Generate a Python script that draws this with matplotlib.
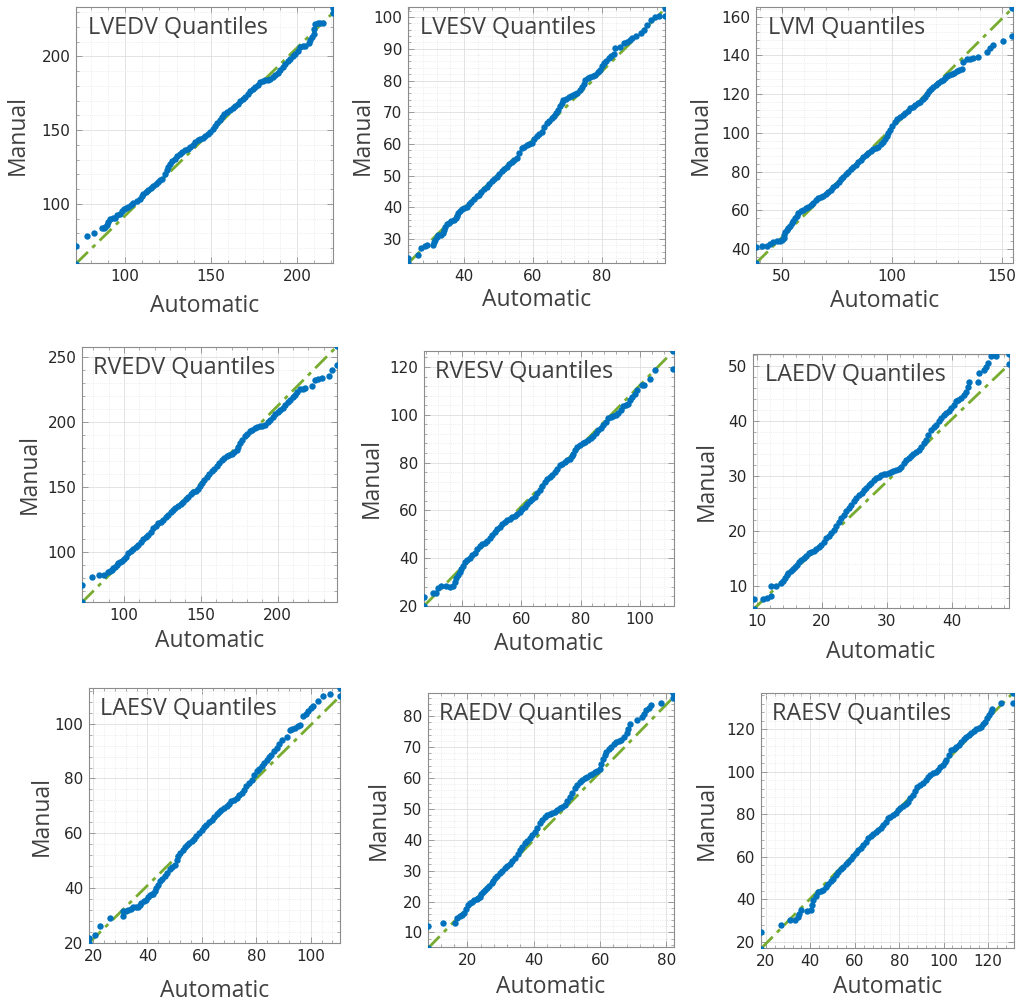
import matplotlib
matplotlib.use("Agg")
import matplotlib.pyplot as plt
from matplotlib.ticker import AutoMinorLocator, FixedLocator

# ---- quantile pairs (Automatic, Manual) for each measurement ----
lvedv = [(71.5, 59.6), (71.5, 71.3), (77.7, 78.6), (81.9, 80.1), (86.4, 83.5), (87.5, 84.0),
         (88.3, 84.4), (89.5, 86.0), (90.3, 87.8), (91.3, 90.1), (92.8, 90.4), (94.2, 90.7),
         (95.6, 92.2), (97.1, 93.5), (98.3, 95.2), (99.4, 96.8), (100.6, 97.4), (101.9, 98.0),
         (103.4, 99.5), (104.9, 100.9), (106.8, 102.3), (108.7, 103.6), (109.7, 105.2),
         (110.7, 107.0), (112.1, 108.3), (113.6, 109.7), (115.0, 110.9), (116.5, 112.2),
         (118.0, 113.6), (119.4, 114.9), (120.6, 116.0), (121.7, 117.2), (123.0, 120.0),
         (124.3, 122.8), (125.2, 125.0), (126.2, 127.3), (127.6, 129.0), (129.1, 130.7),
         (130.5, 132.2), (132.0, 133.6), (133.4, 135.0), (134.9, 136.3), (136.4, 137.5),
         (137.9, 138.6), (139.3, 140.3), (140.8, 142.0), (142.2, 143.1), (143.7, 144.2),
         (145.1, 145.0), (146.6, 145.8), (148.0, 147.3), (149.5, 148.8), (151.0, 150.7),
         (152.4, 152.6), (153.8, 154.7), (155.3, 156.7), (156.5, 158.7), (157.7, 160.7),
         (159.4, 162.0), (161.2, 163.4), (162.6, 164.8), (164.1, 166.1), (165.5, 167.8),
         (167.0, 169.5), (168.4, 171.0), (169.9, 172.5), (171.3, 174.5), (172.8, 176.5),
         (174.2, 177.8), (175.7, 179.2), (177.1, 180.9), (178.6, 182.6), (180.1, 183.1),
         (181.6, 183.7), (183.0, 184.3), (184.5, 184.9), (186.0, 186.0), (187.4, 187.1),
         (188.8, 188.8), (190.3, 190.5), (191.7, 192.7), (193.2, 195.0), (194.6, 196.7),
         (196.1, 198.4), (197.5, 200.1), (199.0, 201.8), (200.4, 204.0), (201.9, 206.3),
         (203.4, 206.8), (204.9, 207.4), (206.8, 209.0), (207.8, 211.0), (208.7, 213.1),
         (209.7, 215.3), (210.2, 218.7), (210.7, 222.1), (212.2, 222.4), (213.6, 222.6),
         (215.0, 222.8), (220.8, 229.4), (220.8, 233.0)]

lvesv = [(23.7, 22.3), (23.7, 24.1), (26.6, 24.9), (27.6, 27.1), (28.5, 27.9), (29.2, 28.1),
         (31.0, 28.1), (31.2, 29.0), (31.5, 29.7), (32.0, 30.5), (32.4, 31.3), (33.4, 31.3),
         (33.8, 32.0), (34.1, 32.8), (34.5, 33.8), (34.9, 34.7), (35.6, 35.1), (36.3, 35.5),
         (37.0, 36.0), (37.6, 36.5), (38.0, 37.3), (38.3, 38.1), (38.9, 38.8), (39.5, 39.4),
         (40.1, 39.8), (40.7, 40.2), (41.4, 41.0), (42.1, 41.8), (42.9, 42.6), (43.6, 43.4),
         (44.3, 44.0), (45.0, 44.7), (45.8, 45.6), (46.5, 46.5), (47.2, 47.4), (48.0, 48.3),
         (48.7, 49.0), (49.4, 49.7), (50.2, 50.5), (50.9, 51.3), (51.6, 52.0), (52.3, 52.8),
         (53.0, 53.6), (53.8, 54.4), (54.5, 55.0), (55.2, 55.5), (56.0, 57.0), (56.7, 58.6),
         (57.5, 59.0), (58.2, 59.5), (58.9, 60.0), (59.6, 60.4), (60.4, 61.5), (61.1, 62.5),
         (61.8, 63.2), (62.5, 63.9), (63.3, 65.2), (64.0, 66.5), (64.7, 67.3), (65.4, 68.1),
         (66.0, 68.9), (66.7, 69.7), (67.3, 70.8), (67.9, 71.8), (68.4, 72.9), (68.8, 73.9),
         (69.5, 74.3), (70.3, 74.7), (71.0, 75.1), (71.7, 75.5), (72.3, 75.7), (72.9, 76.0),
         (73.6, 77.0), (74.2, 77.9), (74.7, 79.0), (75.1, 80.2), (75.9, 80.7), (76.6, 81.1),
         (77.4, 81.4), (78.1, 81.8), (78.8, 82.6), (79.5, 83.4), (80.1, 84.5), (80.7, 85.5),
         (81.3, 86.3), (81.9, 87.1), (82.7, 87.7), (83.4, 88.3), (83.9, 90.4), (85.1, 90.7),
         (86.3, 91.8), (87.3, 92.0), (88.0, 92.7), (88.7, 93.4), (90.0, 93.9), (91.2, 94.9),
         (92.3, 95.8), (93.1, 97.6), (94.1, 99.2), (95.5, 100.2), (96.5, 100.4), (98.2, 100.4),
         (98.2, 102.9)]

lvm = [(38.3, 32.8), (38.3, 41.0), (40.9, 41.9), (43.5, 41.9), (44.7, 42.8), (46.2, 43.6),
       (47.7, 44.5), (49.2, 44.5), (50.0, 45.0), (50.8, 45.7), (51.2, 47.5), (51.5, 49.1),
       (52.2, 50.0), (53.0, 50.8), (53.8, 52.1), (54.5, 53.4), (55.3, 54.7), (56.1, 56.0),
       (56.8, 57.3), (57.6, 58.6), (58.7, 59.5), (59.8, 60.3), (61.0, 61.2), (62.1, 62.0),
       (63.2, 63.0), (64.4, 64.1), (65.5, 65.2), (66.7, 66.3), (67.8, 67.0), (68.9, 67.7),
       (70.0, 68.7), (71.2, 69.7), (72.3, 70.8), (73.5, 72.0), (74.6, 73.4), (75.8, 74.9),
       (76.9, 76.2), (78.0, 77.5), (79.2, 78.8), (80.3, 80.1), (81.4, 81.3), (82.6, 82.6),
       (83.7, 83.7), (84.8, 84.9), (86.0, 86.1), (87.1, 87.4), (88.2, 88.4), (89.4, 89.5),
       (90.5, 90.5), (91.7, 91.6), (92.8, 92.2), (93.9, 92.9), (95.0, 94.2), (96.2, 95.5),
       (97.0, 97.0), (97.7, 98.4), (98.5, 100.0), (99.2, 101.5), (100.3, 103.7), (101.5, 105.8),
       (102.6, 107.1), (103.8, 108.4), (105.0, 109.3), (106.1, 110.1), (107.2, 111.4),
       (108.3, 112.7), (109.5, 113.5), (110.6, 114.4), (111.7, 115.3), (112.9, 116.2),
       (114.0, 117.5), (115.2, 118.7), (116.2, 120.3), (117.1, 121.8), (118.0, 122.7),
       (118.9, 123.5), (120.0, 124.8), (121.2, 126.0), (122.3, 126.7), (123.5, 127.3),
       (124.2, 128.4), (125.0, 129.4), (126.2, 129.9), (127.3, 130.4), (128.4, 131.2),
       (129.5, 132.0), (130.7, 132.4), (131.8, 132.8), (132.6, 136.8), (134.1, 138.0),
       (135.5, 138.4), (136.8, 138.8), (139.4, 139.0), (143.2, 141.9), (144.7, 143.7),
       (146.2, 145.4), (150.5, 147.6), (154.8, 150.2), (154.8, 164.3)]

rvedv = [(72.7, 61.5), (72.7, 74.9), (79.0, 81.3), (83.7, 82.6), (87.0, 82.6), (89.8, 85.1),
         (91.0, 85.6), (92.0, 86.4), (93.0, 87.8), (94.1, 89.0), (95.2, 90.3), (96.3, 91.5),
         (97.4, 92.4), (98.5, 93.3), (99.9, 95.0), (101.3, 96.7), (102.8, 99.7), (104.5, 101.2),
         (106.1, 102.6), (107.7, 104.1), (109.3, 105.6), (111.0, 107.8), (112.6, 110.0),
         (114.2, 111.6), (115.8, 113.3), (117.5, 115.9), (119.1, 118.5), (120.7, 120.4),
         (122.3, 122.3), (124.0, 123.6), (125.6, 124.9), (127.2, 126.8), (128.9, 128.7),
         (130.3, 130.6), (131.7, 132.6), (133.5, 134.1), (135.4, 135.6), (137.0, 137.3),
         (138.6, 139.0), (140.2, 140.9), (141.9, 142.8), (143.5, 144.5), (145.1, 146.2),
         (146.8, 147.3), (148.4, 148.5), (149.5, 150.8), (150.5, 153.1), (152.2, 155.6),
         (153.8, 158.2), (155.4, 160.2), (157.0, 162.1), (158.6, 164.0), (160.3, 165.9),
         (162.0, 168.4), (163.6, 171.0), (165.2, 172.3), (166.8, 173.6), (168.5, 174.6),
         (170.1, 175.6), (171.7, 177.2), (173.3, 178.7), (174.4, 181.2), (175.5, 183.8),
         (177.1, 186.4), (178.7, 189.0), (180.3, 190.9), (182.0, 192.8), (183.6, 194.1),
         (185.2, 195.4), (186.8, 196.1), (188.5, 196.7), (190.1, 197.3), (191.8, 197.9),
         (193.4, 199.8), (195.0, 201.8), (196.7, 204.1), (198.3, 206.4), (199.9, 207.7),
         (201.5, 209.0), (203.2, 211.2), (204.8, 213.3), (206.4, 215.3), (208.0, 217.2),
         (209.7, 219.1), (211.3, 221.0), (212.9, 223.2), (214.5, 225.4), (216.2, 225.8),
         (217.8, 226.2), (222.1, 227.4), (224.3, 232.1), (226.5, 233.0), (228.6, 233.8),
         (233.6, 235.1), (235.1, 240.3), (238.4, 244.1), (238.4, 258.2)]

rvesv = [(27.2, 20.0), (27.2, 23.9), (30.2, 25.3), (31.3, 25.6), (31.9, 27.4), (33.0, 28.4),
         (34.7, 28.5), (35.8, 28.1), (37.0, 28.4), (37.5, 30.2), (38.0, 31.6), (38.6, 33.0),
         (39.2, 34.2), (39.8, 35.3), (40.3, 36.9), (40.9, 38.5), (41.8, 39.4), (42.6, 40.2),
         (43.5, 41.3), (44.3, 42.3), (45.1, 43.7), (46.0, 45.1), (46.9, 45.8), (47.7, 46.5),
         (48.5, 47.4), (49.3, 48.3), (50.1, 49.7), (51.0, 51.1), (51.8, 52.1), (52.7, 53.1),
         (53.5, 54.2), (54.4, 55.2), (55.2, 55.9), (56.1, 56.6), (56.9, 57.1), (57.8, 57.6),
         (58.6, 58.5), (59.5, 59.4), (60.3, 60.5), (61.2, 61.5), (62.0, 62.7), (62.9, 64.0),
         (63.7, 64.8), (64.5, 65.7), (65.3, 67.1), (66.2, 68.5), (67.0, 70.2), (67.9, 71.9),
         (68.7, 73.0), (69.6, 74.0), (70.4, 75.0), (71.3, 76.1), (72.1, 77.5), (73.0, 78.9),
         (73.8, 79.6), (74.7, 80.3), (75.5, 81.0), (76.4, 81.7), (77.0, 82.7), (77.5, 83.8),
         (78.2, 85.2), (78.9, 86.6), (79.8, 87.3), (80.7, 88.0), (81.6, 88.7), (82.6, 89.4),
         (83.4, 90.2), (84.3, 91.0), (85.1, 92.2), (85.9, 93.5), (86.8, 94.5), (87.6, 95.6),
         (88.5, 97.2), (89.3, 98.8), (90.1, 99.1), (91.0, 99.4), (91.8, 100.1), (92.7, 100.8),
         (93.5, 102.2), (94.4, 103.6), (95.2, 104.1), (96.1, 104.7), (96.8, 106.1),
         (97.5, 107.5), (98.2, 108.9), (98.9, 110.3), (100.6, 112.3), (101.5, 112.4),
         (103.4, 115.1), (105.1, 118.9), (111.3, 119.3), (111.3, 126.7)]

laedv = [(9.5, 5.9), (9.5, 7.7), (11.0, 7.7), (11.5, 7.9), (12.1, 8.2), (12.2, 10.0),
         (13.0, 10.1), (13.7, 10.6), (14.0, 11.0), (14.3, 11.5), (14.6, 12.0), (14.8, 12.4),
         (15.2, 12.8), (15.5, 13.1), (15.8, 13.5), (16.1, 13.9), (16.5, 14.4), (16.8, 14.8),
         (17.2, 15.2), (17.6, 15.6), (18.0, 16.0), (18.4, 16.3), (18.8, 16.5), (19.1, 16.8),
         (19.5, 17.1), (19.9, 17.5), (20.3, 18.1), (20.7, 18.7), (21.1, 19.2), (21.4, 19.7),
         (21.8, 20.3), (22.2, 20.9), (22.6, 21.7), (23.0, 22.4), (23.4, 23.0), (23.7, 23.6),
         (24.1, 24.2), (24.5, 24.8), (24.9, 25.4), (25.3, 26.0), (25.7, 26.5), (26.1, 26.9),
         (26.5, 27.4), (26.8, 27.8), (27.2, 28.3), (27.6, 28.7), (28.0, 29.2), (28.4, 29.6),
         (28.8, 29.9), (29.1, 30.2), (29.5, 30.3), (29.9, 30.4), (30.3, 30.6), (30.7, 30.8),
         (31.0, 30.9), (31.4, 31.1), (31.8, 31.3), (32.2, 31.7), (32.6, 32.3), (33.0, 32.9),
         (33.4, 33.3), (33.7, 33.7), (34.1, 34.0), (34.5, 34.4), (34.9, 34.8), (35.3, 35.3),
         (35.7, 35.9), (36.1, 36.5), (36.4, 37.4), (36.8, 38.4), (37.2, 38.9), (37.6, 39.3),
         (38.0, 39.9), (38.4, 40.5), (38.8, 41.0), (39.1, 41.4), (39.5, 41.8), (39.9, 42.3),
         (40.3, 42.9), (40.7, 43.5), (41.0, 43.8), (41.4, 44.1), (41.8, 44.7), (42.2, 45.3),
         (42.5, 46.2), (42.7, 47.1), (44.0, 47.1), (44.2, 48.7), (45.0, 49.2), (45.2, 49.8),
         (45.5, 50.4), (46.0, 51.7), (46.8, 51.7), (48.8, 50.2), (48.8, 52.1)]

laesv = [(18.5, 20.0), (18.5, 21.8), (20.6, 23.0), (22.7, 26.1), (26.1, 29.1), (31.0, 30.0),
         (31.0, 31.6), (32.0, 31.8), (32.9, 31.9), (33.8, 32.5), (34.7, 33.1), (35.7, 33.1),
         (36.6, 33.1), (37.2, 33.8), (37.8, 34.6), (38.7, 35.2), (39.6, 35.8), (40.3, 36.7),
         (40.9, 37.6), (41.5, 37.8), (42.1, 38.0), (42.7, 39.0), (43.3, 40.1), (43.9, 41.3),
         (44.5, 42.5), (45.5, 43.4), (46.4, 44.3), (47.3, 45.6), (48.2, 47.0), (49.2, 47.8),
         (50.1, 48.6), (50.7, 50.1), (51.3, 51.6), (52.1, 52.8), (52.9, 54.0), (53.7, 55.0),
         (54.4, 55.9), (55.3, 56.5), (56.2, 57.1), (57.1, 58.0), (58.0, 58.9), (59.0, 60.1),
         (59.9, 61.3), (60.8, 62.2), (61.7, 63.2), (62.7, 64.1), (63.6, 65.0), (64.5, 66.0),
         (65.4, 67.1), (66.3, 67.8), (67.2, 68.6), (68.2, 69.2), (69.1, 69.8), (70.0, 70.8),
         (70.9, 71.7), (71.9, 72.3), (72.8, 72.9), (73.7, 73.8), (74.6, 74.7), (75.5, 75.9),
         (76.4, 77.1), (77.4, 78.3), (78.3, 79.6), (79.2, 81.1), (80.1, 82.6), (81.1, 83.5),
         (82.0, 84.4), (82.9, 85.6), (83.8, 86.9), (84.7, 87.8), (85.6, 88.7), (86.6, 89.9),
         (87.5, 91.1), (88.4, 92.7), (89.3, 94.2), (91.2, 95.1), (92.4, 97.8), (93.3, 98.1),
         (94.2, 98.4), (95.2, 99.0), (96.1, 99.6), (97.3, 102.7), (98.2, 103.6), (99.1, 104.5),
         (100.1, 105.6), (101.0, 106.6), (102.8, 108.1), (104.7, 110.0), (107.1, 110.9),
         (110.8, 110.0), (110.8, 113.0)]

raedv = [(8.1, 4.9), (8.1, 12.2), (12.6, 13.0), (16.1, 13.2), (16.8, 14.6), (17.8, 15.4),
         (18.4, 15.8), (19.0, 16.2), (19.6, 17.5), (20.3, 18.9), (20.8, 19.5), (21.3, 20.0),
         (22.0, 20.4), (22.8, 20.8), (23.3, 21.2), (23.8, 21.6), (24.2, 22.4), (24.6, 23.2),
         (25.2, 23.7), (25.8, 24.3), (26.5, 25.1), (27.3, 25.9), (27.8, 26.8), (28.3, 27.6),
         (29.0, 28.4), (29.8, 29.2), (30.5, 30.0), (31.3, 30.8), (32.0, 31.5), (32.8, 32.2),
         (33.5, 33.1), (34.3, 34.0), (35.1, 35.3), (35.9, 36.7), (36.6, 37.8), (37.4, 38.9),
         (38.1, 39.7), (38.9, 40.5), (39.6, 41.5), (40.4, 42.6), (41.1, 43.9), (41.9, 45.3),
         (42.6, 46.4), (43.4, 47.5), (44.1, 47.9), (44.9, 48.3), (45.6, 48.7), (46.4, 49.1),
         (47.1, 49.6), (47.9, 50.2), (48.6, 50.7), (49.4, 51.2), (50.1, 52.5), (50.9, 53.9),
         (51.6, 55.2), (52.4, 56.6), (53.1, 57.7), (53.9, 58.8), (54.6, 59.4), (55.4, 59.9),
         (56.1, 60.4), (56.9, 60.9), (57.6, 61.4), (58.4, 62.0), (59.1, 62.4), (59.9, 62.8),
         (60.4, 64.5), (60.9, 66.3), (61.4, 67.4), (61.9, 68.5), (62.6, 69.3), (63.4, 70.1),
         (64.1, 70.9), (64.9, 71.7), (65.6, 72.0), (66.4, 72.2), (67.2, 73.3), (68.0, 74.4),
         (68.5, 76.0), (69.0, 77.6), (71.0, 78.7), (72.5, 79.8), (73.2, 80.8), (74.0, 81.9),
         (74.8, 82.7), (75.5, 83.6), (78.5, 84.3), (82.0, 86.0), (82.0, 87.6)]

raesv = [(17.8, 16.9), (17.8, 24.7), (27.0, 27.8), (30.8, 30.2), (33.0, 30.5), (34.5, 31.8),
         (35.0, 33.3), (35.6, 34.9), (38.3, 34.6), (40.2, 35.2), (40.7, 37.4), (41.3, 39.6),
         (42.4, 41.5), (43.5, 43.5), (44.6, 43.9), (45.8, 44.3), (46.9, 45.9), (48.0, 47.5),
         (49.1, 48.6), (50.3, 49.8), (51.4, 51.4), (52.5, 53.0), (53.6, 54.1), (54.8, 55.3),
         (55.9, 56.5), (57.0, 57.7), (58.1, 59.0), (59.3, 60.3), (60.4, 61.7), (61.5, 63.2),
         (62.6, 64.3), (63.8, 65.5), (64.9, 67.1), (66.0, 68.7), (67.1, 69.7), (68.3, 70.7),
         (69.4, 71.6), (70.5, 72.6), (71.6, 73.7), (72.8, 74.9), (73.9, 76.5), (75.0, 78.1),
         (76.1, 78.9), (77.3, 79.7), (78.4, 80.8), (79.5, 82.0), (80.6, 83.0), (81.8, 83.9),
         (82.9, 84.9), (84.0, 85.9), (85.1, 87.5), (86.3, 89.1), (87.2, 91.0), (88.1, 93.0),
         (89.4, 93.8), (90.8, 94.6), (91.9, 96.0), (93.0, 97.4), (94.1, 98.3), (95.3, 99.3),
         (96.4, 100.0), (97.5, 100.8), (98.6, 102.0), (99.8, 103.2), (100.5, 104.4),
         (101.3, 105.6), (102.4, 108.0), (103.5, 110.3), (104.6, 110.9), (105.8, 111.5),
         (106.9, 112.8), (108.0, 114.2), (109.1, 115.3), (110.3, 116.5), (111.4, 117.5),
         (112.5, 118.4), (113.6, 119.2), (114.8, 120.0), (115.9, 120.6), (117.0, 121.2),
         (117.8, 122.4), (118.5, 123.6), (119.5, 125.2), (120.4, 126.8), (121.2, 128.1),
         (121.9, 129.4), (126.0, 132.2), (131.2, 132.2), (131.2, 137.0)]

# reference line end points (x0, x1, y0, y1)
ref_lines = {
    "LVEDV": (71.5, 220.8, 59.6, 229.4),
    "LVESV": (23.7, 98.2, 22.3, 102.5),
    "LVM": (38.3, 154.8, 32.8, 164.3),
    "RVEDV": (72.7, 238.4, 61.5, 258.0),
    "RVESV": (27.2, 111.3, 20.0, 126.7),
    "LAEDV": (9.5, 48.8, 5.9, 50.2),
    "LAESV": (18.5, 110.8, 20.0, 110.0),
    "RAEDV": (8.1, 82.0, 4.9, 86.0),
    "RAESV": (17.8, 131.2, 16.9, 137.0),
}

names = ["LVEDV", "LVESV", "LVM", "RVEDV", "RVESV", "LAEDV", "LAESV", "RAEDV", "RAESV"]
series = {"LVEDV": lvedv, "LVESV": lvesv, "LVM": lvm, "RVEDV": rvedv, "RVESV": rvesv,
          "LAEDV": laedv, "LAESV": laesv, "RAEDV": raedv, "RAESV": raesv}
xticks = {
    "LVEDV": [100, 150, 200], "LVESV": [40, 60, 80], "LVM": [50, 100, 150],
    "RVEDV": [100, 150, 200], "RVESV": [40, 60, 80, 100], "LAEDV": [10, 20, 30, 40],
    "LAESV": [20, 40, 60, 80, 100], "RAEDV": [20, 40, 60, 80], "RAESV": [20, 40, 60, 80, 100, 120],
}
yticks = {
    "LVEDV": [100, 150, 200], "LVESV": [30, 40, 50, 60, 70, 80, 90, 100],
    "LVM": [40, 60, 80, 100, 120, 140, 160], "RVEDV": [100, 150, 200, 250],
    "RVESV": [20, 40, 60, 80, 100, 120], "LAEDV": [10, 20, 30, 40, 50],
    "LAESV": [20, 40, 60, 80, 100], "RAEDV": [10, 20, 30, 40, 50, 60, 70, 80],
    "RAESV": [20, 40, 60, 80, 100, 120],
}
limits = {
    "LVEDV": (71.5, 221.0, 60.0, 233.5), "LVESV": (23.7, 98.3, 22.4, 103.2),
    "LVM": (38.3, 155.1, 32.9, 165.0), "RVEDV": (72.7, 238.6, 61.8, 257.7),
    "RVESV": (27.2, 111.5, 20.0, 126.7), "LAEDV": (9.4, 48.8, 6.1, 52.1),
    "LAESV": (18.5, 110.8, 20.0, 113.0), "RAEDV": (8.1, 82.3, 5.3, 87.5),
    "RAESV": (17.8, 131.7, 17.2, 137.0),
}
# axes boxes in pixels: left, right, top, bottom
boxes = [
    (76, 333, 7, 263), (408, 665, 7, 263), (756, 1013, 7, 263),
    (82, 337, 347, 602), (424, 674, 351, 606), (753, 1009, 354, 608),
    (89, 340, 688, 943), (428, 674, 693, 947), (761, 1014, 693, 948),
]
# label centres in pixels: y-label x position, x-label y position
ylabel_x = [18, 363, 701, 30, 372, 707, 42, 379, 707]
xlabel_y = [306, 300, 301, 641, 644, 652, 991, 987, 987]

W, H = 1017, 1007
fig = plt.figure(figsize=(W / 100, H / 100), dpi=100)
fig.patch.set_facecolor("white")

label_font = dict(family=["Open Sans", "DejaVu Sans"], color="#404040")

for i, name in enumerate(names):
    l, r, t, b = boxes[i]
    ax = fig.add_axes([l / W, 1 - b / H, (r - l) / W, (b - t) / H])
    xs = [p[0] for p in series[name]]
    ys = [p[1] for p in series[name]]
    # reference line first, quantile markers drawn over it
    x0, x1, y0, y1 = ref_lines[name]
    ax.plot([x0, x1], [y0, y1], color="#77AC30", linewidth=2.0,
            dashes=(6, 2.2, 1.5, 2.2), zorder=3)
    ax.plot(xs, ys, linestyle="none", marker="o", markersize=4.6,
            markerfacecolor="#0072BD", markeredgewidth=0, zorder=4)
    xl0, xl1, yl0, yl1 = limits[name]
    ax.set_xlim(xl0, xl1)
    ax.set_ylim(yl0, yl1)
    ax.xaxis.set_major_locator(FixedLocator(xticks[name]))
    ax.yaxis.set_major_locator(FixedLocator(yticks[name]))
    ax.xaxis.set_minor_locator(AutoMinorLocator(5))
    ax.yaxis.set_minor_locator(AutoMinorLocator(5))
    ax.grid(True, which="major", color="#dedede", linewidth=0.6, linestyle="-")
    ax.grid(True, which="minor", color="#e6e6e6", linewidth=0.6, linestyle=":")
    ax.set_axisbelow(True)
    for sp in ax.spines.values():
        sp.set_color("#8c8c8c")
        sp.set_linewidth(0.8)
    ax.tick_params(which="major", direction="in", length=4, width=0.6, color="#8c8c8c",
                   labelsize=11, labelcolor="#262626", top=True, right=True, pad=4)
    ax.tick_params(which="minor", direction="in", length=2, width=0.5, color="#8c8c8c",
                   top=True, right=True)
    ax.set_xlabel("Automatic", fontsize=16.5, **label_font)
    ax.set_ylabel("Manual", fontsize=16.5, **label_font)
    ax.xaxis.label.set_verticalalignment("center")
    ax.yaxis.label.set_verticalalignment("center")
    ax.xaxis.set_label_coords(0.5, (b - xlabel_y[i]) / (b - t))
    ax.yaxis.set_label_coords((ylabel_x[i] - l) / (r - l), 0.5)
    ax.text(0.045, 0.965, f"{name} Quantiles", transform=ax.transAxes, ha="left", va="top",
            fontsize=16.8, zorder=5, **label_font)

fig.savefig("out.png", dpi=100, facecolor="white")
